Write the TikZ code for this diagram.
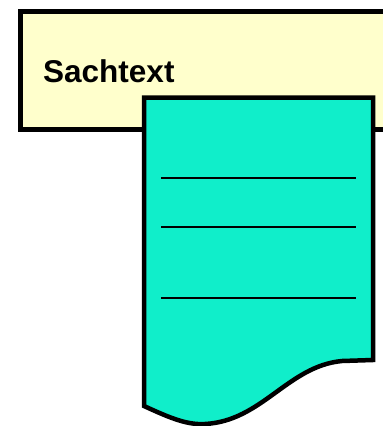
\documentclass[tikz,border=0pt]{standalone}
\usepackage{fontspec}
\setmainfont{Liberation Sans}
\definecolor{boxyellow}{RGB}{255,255,204}
\definecolor{doccyan}{RGB}{16,238,202}
\begin{document}
\begin{tikzpicture}[x=1pt,y=-1pt,
  frame/.style={draw=black,line width=5pt,line join=miter},
  rule/.style={draw=black,line width=1.6pt}]
\useasboundingbox (0,0) rectangle (383,426);
\clip (0,0) rectangle (383,426);
\path[frame,fill=boxyellow] (20.5,11) rectangle (400,129);
\node[anchor=base west,inner sep=0pt,font=\fontsize{31.5}{36}\selectfont\bfseries] (title) at (43,82) {Sachtext};
\path[frame,line width=4.5pt,fill=doccyan] (144,97.5) -- (144,406)
  .. controls (172,419) and (188,425) .. (205,424)
  .. controls (262,421) and (288,366) .. (342,361) -- (373,360) -- (373,97.5) -- cycle;
\path[rule] (161,178) -- (356,178);
\path[rule] (161,227) -- (356,227);
\path[rule] (161,298) -- (356,298);
\end{tikzpicture}
\end{document}
